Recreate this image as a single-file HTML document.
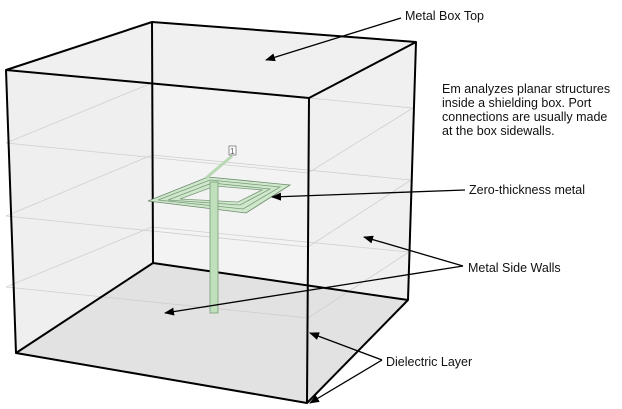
<!DOCTYPE html>
<html><head><meta charset="utf-8"><style>
html,body{margin:0;padding:0;background:#fff;}
svg{display:block}
text{font-family:"Liberation Sans",sans-serif;font-size:12.5px;fill:#111;}
</style></head><body>
<svg width="622" height="409" viewBox="0 0 622 409" xmlns="http://www.w3.org/2000/svg">
<defs>
<marker id="ah" markerWidth="10" markerHeight="8" refX="9" refY="4" orient="auto" markerUnits="userSpaceOnUse">
<path d="M0,0 L10,4 L0,8 Z" fill="#000"/>
</marker>
</defs>
<!-- walls -->
<polygon points="152,22 416,42 408,300 153,263" fill="#f3f3f3"/>
<polygon points="6,70 152,22 153,263 16,353" fill="#efefef"/>
<polygon points="309,98 416,42 408,300 307,403" fill="#f0f0f0"/>
<polygon points="6,70 152,22 416,42 309,98" fill="#f0f0f0"/>
<polygon points="16,353 153,263 408,300 307,403" fill="#e2e2e2"/>
<!-- grid lines -->
<g stroke="#cfcfcf" stroke-width="0.8" fill="none">
<polyline points="152,83 6,143 308,173 413,108"/>
<polyline points="152,155 6,216 308,247 411,180"/>
<polyline points="152,227 6,287 308,318 409,252"/>
<line x1="152" y1="83" x2="413" y2="108"/>
<line x1="152" y1="155" x2="411" y2="180"/>
<line x1="152" y1="227" x2="409" y2="252"/>
<line x1="309" y1="98" x2="6" y2="70" stroke="none"/>
</g>
<!-- box edges -->
<g stroke="#000" stroke-width="2" fill="none" stroke-linejoin="round">
<polygon points="6,70 152,22 416,42 309,98"/>
<line x1="152" y1="22" x2="153" y2="263"/>
<line x1="416" y1="42" x2="408" y2="300"/>
<line x1="309" y1="98" x2="307" y2="403"/>
<line x1="6" y1="70" x2="16" y2="353"/>
<polygon points="16,353 153,263 408,300 307,403"/>
</g>
<!-- spiral -->
<g stroke="#6a8a6a" stroke-width="0.8" fill="#cfe8cc">
<polygon points="148,201 208,177 290,185 246,213"/>
</g>
<g stroke="#7a9a7a" stroke-width="0.8" fill="none">
<polygon points="158,200 210,180 280,187 243,209"/>
<polygon points="168,200 212,183 270,189 240,205"/>
</g>
<polygon points="180,199 215,186 262,190 238,202" fill="#f3f3f3" stroke="#7a9a7a" stroke-width="0.8"/>
<line x1="232" y1="156" x2="206" y2="178" stroke="#b8d8b4" stroke-width="3"/>
<rect x="229" y="146" width="7" height="9" fill="#fff" stroke="#777" stroke-width="0.8"/>
<text x="230" y="154" style="font-size:8px;fill:#555">1</text>
<rect x="210" y="182" width="8" height="131" fill="#bfe0bb" stroke="#7a9a7a" stroke-width="0.8"/>
<!-- arrows -->
<g stroke="#000" stroke-width="1.3" fill="none" marker-end="url(#ah)">
<line x1="401" y1="18" x2="266" y2="60"/>
<line x1="465" y1="190" x2="272" y2="197"/>
<line x1="463" y1="266" x2="364" y2="237"/>
<line x1="463" y1="266" x2="165" y2="313"/>
<line x1="382" y1="360" x2="310" y2="333"/>
<line x1="382" y1="360" x2="310" y2="403"/>
</g>
<!-- labels -->
<text x="405" y="20">Metal Box Top</text>
<text x="442" y="93">Em analyzes planar structures</text>
<text x="442" y="107">inside a shielding box. Port</text>
<text x="442" y="121">connections are usually made</text>
<text x="442" y="135">at the box sidewalls.</text>
<text x="469" y="194">Zero-thickness metal</text>
<text x="468" y="272">Metal Side Walls</text>
<text x="386" y="366">Dielectric Layer</text>
</svg>
</body></html>
